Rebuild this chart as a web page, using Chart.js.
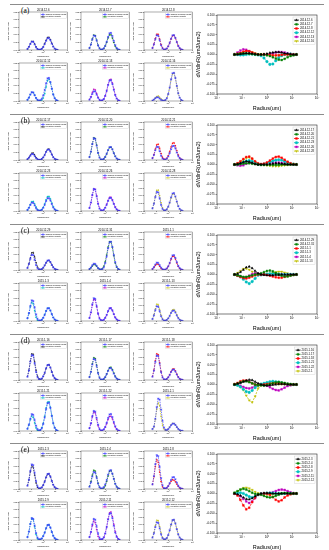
<!DOCTYPE html>
<html>
<head>
<meta charset="utf-8">
<script src="https://cdn.jsdelivr.net/npm/chart.js@4.4.1/dist/chart.umd.min.js"></script>
<style>
  body { margin: 0; background: #fff; width: 329px; height: 550px; position: relative; overflow: hidden; }
  canvas { position: absolute; }
  .rule { position: absolute; left: 10px; width: 314px; height: 0; border-top: 1px solid #8c8c8c; }
  .tag { position: absolute; font-family: "Liberation Serif", serif; font-size: 7.5px; line-height: 1; color: #000; }
</style>
</head>
<body>
<script>
// radius bins (um) shared by every panel
const radius = [0.050, 0.066, 0.086, 0.113, 0.148, 0.194, 0.255, 0.335, 0.439, 0.576, 0.756,
                0.992, 1.302, 1.708, 2.241, 2.940, 3.857, 5.061, 6.641, 8.713, 11.432, 15.000];
const xTickValues = [0.01, 0.1, 1, 10, 100];
const xTickLabels = ['10⁻²', '10⁻¹', '10⁰', '10¹', '10²'];
const smallYTicks = [0, 0.05, 0.10, 0.15, 0.20, 0.25];
const bigYTicks = [-0.1, -0.075, -0.05, -0.025, 0, 0.025, 0.05, 0.075, 0.1];
const seriesColors = ['#000000', '#008000', '#ff0000', '#00bfbf', '#bf00bf', '#bfbf00'];
const seriesMarkers = ['triangle', 'rect', 'rect', 'circle', 'rect', 'triangle'];
const originalColor = '#3c3cff';
const rowTags = ['(a)', '(b)', '(c)', '(d)', '(e)'];

// dates of the six panels of each row
const datesA = ['2014.12.6', '2014.12.7', '2014.12.8', '2014.12.12', '2014.12.13', '2014.12.16'];
const datesB = ['2014.12.17', '2014.12.20', '2014.12.21', '2014.12.23', '2014.12.26', '2014.12.28'];
const datesC = ['2014.12.29', '2014.12.31', '2015.1.1', '2015.1.3', '2015.1.4', '2015.1.13'];
const datesD = ['2015.1.16', '2015.1.17', '2015.1.18', '2015.1.21', '2015.1.22', '2015.2.1'];
const datesE = ['2015.2.3', '2015.2.4', '2015.2.8', '2015.2.9', '2015.2.11', '2015.2.12'];

// original inversion results, in 0.001 um3/um2
const origA = [
  [7,21,40,55,54,37,18,6,2,3,8,19,38,60,77,78,64,42,22,9,3,1],
  [13,36,70,95,92,63,30,11,3,4,11,28,54,86,110,113,92,60,31,13,4,1],
  [13,37,71,97,94,64,31,11,3,4,10,24,47,75,96,98,80,52,27,12,4,1],
  [8,22,43,58,56,38,19,7,3,5,15,37,73,116,149,152,124,81,42,18,6,2],
  [9,24,47,64,62,42,21,7,3,5,13,34,66,105,134,137,112,73,38,16,5,1],
  [3,9,18,24,24,16,8,3,2,6,18,46,89,143,182,186,152,99,51,22,7,2]
];
const origB = [
  [5,15,28,39,38,26,12,4,2,2,7,17,33,53,67,69,56,36,19,8,3,1],
  [19,55,105,144,139,95,46,16,4,3,8,21,41,65,84,85,70,45,24,10,3,1],
  [12,33,64,87,85,58,28,10,3,3,9,23,45,71,91,93,76,49,26,11,4,1],
  [7,21,40,55,54,37,18,6,2,3,8,21,40,65,83,84,69,45,23,10,3,1],
  [20,56,107,146,141,96,47,16,5,3,8,21,41,66,85,86,70,46,24,10,3,1],
  [17,48,92,126,122,83,40,14,4,4,11,29,56,90,115,118,96,62,32,14,5,1]
];
const origC = [
  [14,39,74,101,98,67,32,11,3,3,6,16,31,49,62,64,52,34,18,8,3,1],
  [6,16,31,42,40,28,13,5,3,6,18,46,89,143,182,186,152,99,51,22,7,2],
  [7,19,36,49,47,32,16,5,2,3,10,24,47,75,96,98,80,52,27,12,4,1],
  [18,52,99,136,132,90,43,15,4,3,8,21,40,65,83,84,69,45,23,10,3,1],
  [20,57,110,150,146,99,48,16,5,3,8,21,40,65,83,84,69,45,23,10,3,1],
  [13,37,71,97,94,64,31,11,3,3,7,17,33,53,67,69,56,36,19,8,3,1]
];
const origD = [
  [22,63,121,165,160,109,53,18,5,4,10,25,48,77,98,100,82,53,28,12,4,1],
  [19,53,102,139,134,92,44,15,4,3,8,19,38,60,77,78,64,42,22,9,3,1],
  [22,62,119,162,157,107,52,18,5,3,7,17,33,53,67,69,56,36,19,8,3,1],
  [15,42,81,111,107,73,35,12,4,6,18,46,89,143,182,186,152,99,51,22,7,2],
  [18,50,97,132,128,87,42,14,4,4,11,27,54,86,109,112,91,59,31,13,4,1],
  [13,29,81,156,213,207,141,68,23,8,6,12,24,38,48,49,40,26,14,6,2,1]
];
const origE = [
  [22,62,119,162,157,107,52,18,5,4,10,25,48,77,98,100,82,53,28,12,4,1],
  [15,43,82,112,108,74,36,12,4,4,12,30,59,95,121,124,101,66,34,15,5,1],
  [30,85,163,223,216,147,71,24,6,4,8,19,38,60,77,78,64,42,22,9,3,1],
  [19,55,105,144,139,95,46,16,5,4,10,25,48,77,98,100,82,53,28,12,4,1],
  [19,53,102,139,134,92,44,15,5,6,17,43,85,135,173,176,144,94,49,21,7,2],
  [16,44,85,116,113,77,37,13,4,5,13,33,64,102,131,133,109,71,37,16,5,1]
];

// prediction minus original (the right-hand plots), in 0.001 um3/um2
const diffA = [
  [0,0,1,2,3,3,2,1,0,0,1,2,4,5,6,6,5,3,2,1,0,0],
  [0,1,2,3,3,2,1,0,0,0,-1,-2,-4,-7,-10,-13,-14,-11,-7,-4,-2,0],
  [0,2,4,7,9,8,5,2,0,0,0,0,-1,-2,-2,-2,-1,0,0,0,0,0],
  [0,0,-1,-1,0,1,1,0,-1,-3,-9,-18,-25,-24,-16,-8,-3,0,1,1,0,0],
  [1,5,10,13,12,8,4,1,0,-1,-1,0,1,3,5,6,6,5,3,1,0,0],
  [0,1,3,6,9,9,6,3,1,0,0,-1,-2,-3,-3,-2,-1,0,0,0,0,0]
];
const diffB = [
  [0,1,3,6,8,7,4,1,0,0,0,0,1,2,3,3,2,1,0,0,0,0],
  [0,0,1,2,3,3,2,1,0,-1,-1,-1,-1,-1,-1,-1,0,0,0,0,0,0],
  [0,3,8,14,19,20,15,8,3,1,2,5,10,15,19,20,17,12,7,3,1,0],
  [0,1,3,6,9,10,8,4,1,0,1,3,6,9,11,12,11,8,5,2,1,0],
  [0,-2,-3,-2,2,5,4,2,0,0,1,2,3,4,5,5,4,3,2,1,0,0],
  [0,2,6,11,16,18,14,7,2,0,-1,-2,-3,-4,-4,-4,-3,-2,-1,0,0,0]
];
const diffC = [
  [0,2,6,12,18,20,16,9,3,0,-1,-2,-2,-2,-1,-1,0,0,0,0,0,0],
  [0,-2,-4,-6,-6,-4,-2,0,1,3,6,9,10,8,4,0,-3,-5,-5,-3,-1,0],
  [0,-3,-6,-9,-10,-8,-5,-2,0,0,0,-1,-3,-5,-7,-8,-8,-6,-4,-2,-1,0],
  [0,-2,-6,-12,-19,-23,-18,-10,-2,-1,0,1,2,2,1,1,0,0,0,0,0,0],
  [0,-2,-5,-8,-7,-3,1,3,2,1,0,0,0,0,1,1,1,0,0,0,0,0],
  [0,4,9,14,15,12,7,3,1,0,0,1,2,4,6,7,7,5,3,1,0,0]
];
const diffD = [
  [0,2,4,7,10,12,11,7,3,0,-2,-3,-2,-1,0,1,1,1,0,0,0,0],
  [0,2,5,8,8,6,3,0,-2,-2,-3,-1,1,3,5,6,5,4,2,1,0,0],
  [1,4,8,10,10,7,3,0,-1,-1,0,1,2,3,4,4,3,2,1,0,0,0],
  [0,-2,-6,-12,-18,-20,-15,-8,-2,1,3,5,7,8,7,6,4,2,1,0,0,0],
  [0,-1,-3,-6,-9,-10,-8,-4,-1,0,-1,-3,-7,-11,-14,-15,-12,-8,-4,-2,0,0],
  [0,-2,-6,-14,-28,-40,-45,-30,-10,-2,0,2,3,3,2,1,1,0,0,0,0,0]
];
const diffE = [
  [0,-2,-5,-10,-14,-15,-12,-7,-3,0,1,1,1,0,0,0,0,0,0,0,0,0],
  [2,6,10,12,10,6,2,-1,-2,-3,-6,-9,-10,-9,-6,-3,0,1,1,0,0,0],
  [0,-5,-16,-30,-40,-36,-22,-10,-3,-1,0,0,-3,-9,-16,-20,-17,-10,-5,-2,0,0],
  [0,1,2,0,-4,-8,-10,-8,-3,-1,0,1,1,1,0,0,0,0,0,0,0,0],
  [0,-2,-7,-14,-20,-24,-20,-12,-3,-1,0,0,1,3,6,9,10,9,6,3,1,0],
  [1,5,10,14,15,13,9,4,1,-1,-2,-3,-3,-2,-1,0,1,1,1,0,0,0]
];

const rows = [
  { dates: datesA, orig: origA, diff: diffA },
  { dates: datesB, orig: origB, diff: diffB },
  { dates: datesC, orig: origC, diff: diffC },
  { dates: datesD, orig: origD, diff: diffD },
  { dates: datesE, orig: origE, diff: diffE }
];
const rowTops = [0, 110, 220, 330, 439];
const smallLefts = [19, 81, 144];
const smallTops = [12, 63];

const FONT = '"Liberation Sans", Arial, sans-serif';
Chart.defaults.font.family = FONT;
Chart.defaults.color = '#000';

// black box round the plot area, like matplotlib spines
const framePlugin = {
  id: 'frame',
  afterDatasetsDraw(chart, args, opts) {
    const a = chart.chartArea, c = chart.ctx;
    c.save();
    c.strokeStyle = opts.color || '#000';
    c.lineWidth = opts.width || 0.5;
    c.strokeRect(a.left, a.top, a.right - a.left, a.bottom - a.top);
    c.restore();
  }
};

// small date title above each panel
const panelTitle = {
  id: 'panelTitle',
  afterDraw(chart, args, o) {
    if (!o.text) return;
    const c = chart.ctx, a = chart.chartArea;
    c.save();
    c.font = o.size + 'px ' + FONT;
    c.fillStyle = '#000';
    c.textAlign = 'center';
    c.textBaseline = 'bottom';
    c.fillText(o.text, (a.left + a.right) / 2, a.top - o.gap);
    c.restore();
  }
};

// legend box in the top right corner of the plot area
const boxLegend = {
  id: 'boxLegend',
  afterDraw(chart, args, o) {
    if (!o.show) return;
    const c = chart.ctx, a = chart.chartArea, ds = chart.data.datasets;
    c.save();
    c.font = o.size + 'px ' + FONT;
    const tw = Math.max(...ds.map(d => c.measureText(d.label).width));
    const w = tw + o.sample + o.pad * 3, h = ds.length * o.row + o.pad * 2;
    const x = a.right - o.inset - w, y = a.top + o.inset;
    c.fillStyle = 'rgba(255,255,255,0.85)';
    c.strokeStyle = '#cccccc';
    c.lineWidth = 0.4;
    c.fillRect(x, y, w, h);
    c.strokeRect(x, y, w, h);
    ds.forEach((d, i) => {
      const cy = y + o.pad + o.row * (i + 0.5);
      c.strokeStyle = d.borderColor;
      c.fillStyle = d.backgroundColor;
      c.lineWidth = d.borderWidth;
      c.setLineDash(d.borderDash || []);
      c.beginPath();
      c.moveTo(x + o.pad, cy);
      c.lineTo(x + o.pad + o.sample, cy);
      c.stroke();
      c.setLineDash([]);
      c.lineWidth = d.pointBorderWidth;
      Chart.helpers.drawPoint(c, {
        pointStyle: d.pointStyle, radius: d.pointRadius,
        rotation: d.pointRotation || 0, borderWidth: d.pointBorderWidth
      }, x + o.pad + o.sample / 2, cy);
      c.fillStyle = '#000';
      c.textBaseline = 'middle';
      c.textAlign = 'left';
      c.fillText(d.label, x + o.pad * 2 + o.sample, cy);
    });
    c.restore();
  }
};

Chart.register(framePlugin, panelTitle, boxLegend);

function addCanvas(left, top, w, h) {
  const cv = document.createElement('canvas');
  cv.width = w;
  cv.height = h;
  cv.style.left = left + 'px';
  cv.style.top = top + 'px';
  cv.style.width = w + 'px';
  cv.style.height = h + 'px';
  document.body.appendChild(cv);
  return cv;
}

function logAxis(fontSize, tickLen, titleSize, height) {
  return {
    type: 'logarithmic', min: 0.01, max: 100,
    afterBuildTicks: s => { s.ticks = xTickValues.map(v => ({ value: v })); },
    afterFit: s => { s.height = height; },
    ticks: {
      font: { size: fontSize }, padding: 0.5, maxRotation: 0, autoSkip: false,
      callback: v => xTickLabels[xTickValues.indexOf(v)] || ''
    },
    grid: { drawOnChartArea: false, tickLength: tickLen, color: '#000', lineWidth: 0.4 },
    border: { display: false },
    title: { display: true, text: 'Radius(um)', font: { size: titleSize }, padding: 0.5 }
  };
}

function smallPanel(left, top, title, orig, diff, color, marker) {
  const W = 51, H = 38, padL = 12, padT = 6, padB = 8, padR = 2;
  const cv = addCanvas(left - padL, top - padT, W + padL + padR, H + padT + padB);
  new Chart(cv, {
    type: 'line',
    data: {
      datasets: [
        {
          label: 'Original inversion results',
          data: radius.map((r, i) => ({ x: r, y: orig[i] / 1000 })),
          borderColor: originalColor, backgroundColor: originalColor,
          borderWidth: 0.7, borderDash: [1.5, 1],
          pointStyle: 'star', pointRadius: 1.1, pointBorderWidth: 0.45
        },
        {
          label: 'Prediction Results',
          data: radius.map((r, i) => ({ x: r, y: (orig[i] + diff[i]) / 1000 })),
          borderColor: color, backgroundColor: color,
          borderWidth: 0.7, borderDash: [1.5, 1],
          pointStyle: marker, pointRadius: 0.7, pointBorderWidth: 0.3
        }
      ]
    },
    options: {
      responsive: false, animation: false, devicePixelRatio: 1,
      layout: { padding: { top: padT, right: padR, left: 0, bottom: 0 } },
      plugins: {
        legend: { display: false }, tooltip: { enabled: false },
        panelTitle: { text: title, size: 2.8, gap: 0.8 },
        boxLegend: { show: true, size: 1.9, row: 2.3, sample: 4, pad: 0.6, inset: 0.8 },
        frame: { width: 0.4, color: '#333' }
      },
      scales: {
        x: logAxis(2.1, 1, 2.3, padB),
        y: {
          type: 'linear', min: 0, max: 0.25,
          afterBuildTicks: s => { s.ticks = smallYTicks.map(v => ({ value: v })); },
          afterFit: s => { s.width = padL; },
          ticks: { font: { size: 2.1 }, padding: 0.5, callback: v => v.toFixed(2) },
          grid: { drawOnChartArea: false, tickLength: 1, color: '#000', lineWidth: 0.4 },
          border: { display: false },
          title: { display: true, text: 'dV/dlnR(um3/um2)', font: { size: 2.2 }, padding: 0 }
        }
      }
    }
  });
}

function bigPanel(rowTop, dates, diff) {
  const left = 217, top = rowTop + 15, W = 100, H = 79;
  const padL = 22, padT = 5, padB = 18, padR = 5;
  const cv = addCanvas(left - padL, top - padT, W + padL + padR, H + padT + padB);
  new Chart(cv, {
    type: 'line',
    data: {
      datasets: dates.map((d, k) => ({
        label: d,
        data: radius.map((r, i) => ({ x: r, y: diff[k][i] / 1000 })),
        borderColor: seriesColors[k], backgroundColor: seriesColors[k],
        borderWidth: 0.8, borderDash: [2, 1.2],
        pointStyle: seriesMarkers[k], pointRotation: k === 5 ? 180 : 0,
        pointRadius: 1.3, pointBorderWidth: 0.4
      }))
    },
    options: {
      responsive: false, animation: false, devicePixelRatio: 1,
      layout: { padding: { top: padT, right: padR, left: 0, bottom: 0 } },
      plugins: {
        legend: { display: false }, tooltip: { enabled: false },
        boxLegend: { show: true, size: 2.8, row: 4.2, sample: 5, pad: 1, inset: 2 },
        frame: { width: 0.6, color: '#222' }
      },
      scales: {
        x: logAxis(3, 1.5, 5.5, padB),
        y: {
          type: 'linear', min: -0.1, max: 0.1,
          afterBuildTicks: s => { s.ticks = bigYTicks.map(v => ({ value: v })); },
          afterFit: s => { s.width = padL; },
          ticks: { font: { size: 2.8 }, padding: 1, callback: v => v.toFixed(3) },
          grid: { drawOnChartArea: false, tickLength: 1.5, color: '#000', lineWidth: 0.4 },
          border: { display: false },
          title: { display: true, text: 'dV/dlnR(um3/um2)', font: { size: 5.5 }, padding: 0.5 }
        }
      }
    }
  });
}

rows.forEach((row, r) => {
  const rt = rowTops[r];
  const rule = document.createElement('div');
  rule.className = 'rule';
  rule.style.top = (rt + 4) + 'px';
  document.body.appendChild(rule);
  const tag = document.createElement('div');
  tag.className = 'tag';
  tag.style.left = '21px';
  tag.style.top = (rt + 7) + 'px';
  tag.textContent = rowTags[r];
  document.body.appendChild(tag);

  row.dates.forEach((date, k) => {
    const col = k % 3, line = Math.floor(k / 3);
    smallPanel(smallLefts[col], rt + smallTops[line], date, row.orig[k], row.diff[k],
               seriesColors[k], seriesMarkers[k]);
  });
  bigPanel(rt, row.dates, row.diff);
});
</script>
</body>
</html>
